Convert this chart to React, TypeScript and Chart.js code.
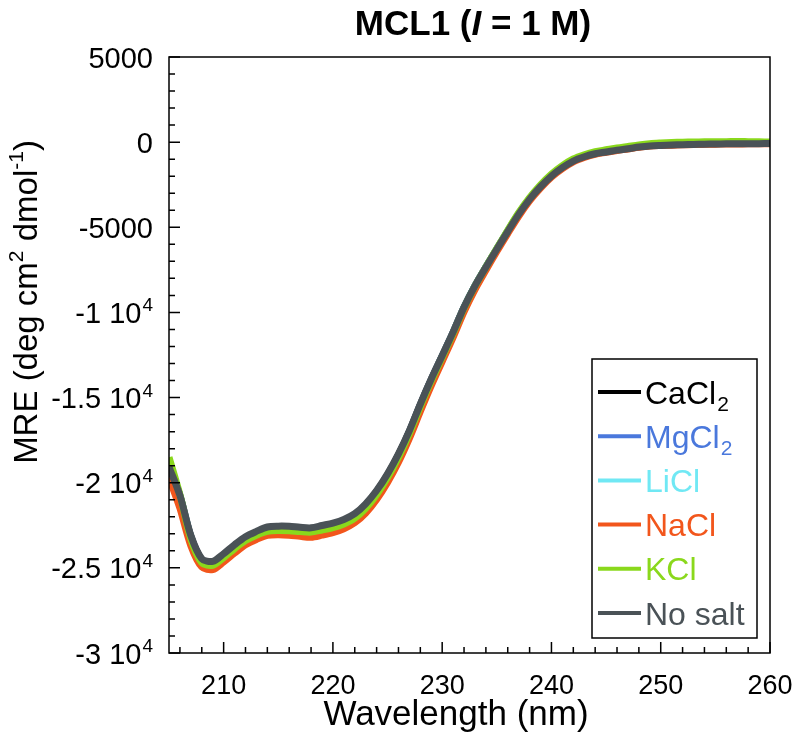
import React, { useEffect, useRef } from "react";
import { Chart, registerables } from "chart.js";

Chart.register(...registerables);

const wavelengths = [
  205, 206, 207, 208, 209, 210, 211, 212, 213, 214, 215, 216, 217, 218, 219, 220,
  221, 222, 223, 224, 225, 226, 227, 228, 229, 230, 231, 232, 233, 234, 235, 236,
  237, 238, 239, 240, 241, 242, 243, 244, 245, 246, 247, 248, 249, 250, 251, 252,
  253, 254, 255, 256, 257, 258, 259, 260,
];

const cacl2 = [
  -18900, -20780, -23150, -24520, -24680, -24230, -23700, -23230, -22920, -22660, -22610, -22620, -22680, -22710, -22570, -22430,
  -22220, -21880, -21300, -20520, -19540, -18360, -16990, -15420, -13940, -12560, -11170, -9700, -8440, -7340, -6280, -5230,
  -4220, -3340, -2600, -1970, -1480, -1090, -840, -660, -560, -450, -370, -270, -200, -170, -150, -130,
  -110, -100, -90, -80, -80, -70, -70, -60,
];
const mgcl2 = [
  -18950, -20800, -23180, -24560, -24720, -24270, -23740, -23270, -22960, -22700, -22650, -22660, -22720, -22750, -22610, -22470,
  -22260, -21920, -21340, -20560, -19580, -18400, -17020, -15440, -13960, -12580, -11190, -9710, -8450, -7340, -6270, -5220,
  -4200, -3320, -2580, -1950, -1460, -1070, -820, -640, -540, -430, -350, -250, -180, -150, -130, -110,
  -95, -85, -75, -65, -65, -55, -55, -50,
];
const licl = [
  -18800, -20760, -23200, -24600, -24760, -24310, -23780, -23310, -23000, -22740, -22690, -22700, -22760, -22790, -22650, -22510,
  -22300, -21960, -21380, -20590, -19600, -18420, -17040, -15460, -13980, -12590, -11200, -9720, -8450, -7340, -6260, -5210,
  -4190, -3300, -2560, -1930, -1440, -1050, -800, -620, -510, -400, -320, -220, -150, -120, -100, -80,
  -65, -55, -45, -40, -35, -35, -40, -45,
];
const nacl = [
  -19700, -21500, -23700, -24950, -25100, -24650, -24130, -23650, -23330, -23090, -23050, -23080, -23150, -23200, -23080, -22930,
  -22700, -22350, -21780, -20980, -19980, -18800, -17400, -15820, -14300, -12880, -11460, -9960, -8660, -7520, -6420, -5370,
  -4350, -3450, -2700, -2060, -1560, -1160, -900, -710, -600, -490, -400, -300, -230, -200, -180, -160,
  -140, -130, -120, -110, -110, -100, -100, -90,
];
const kcl = [
  -18500, -20700, -23300, -24700, -24850, -24400, -23870, -23400, -23080, -22850, -22800, -22820, -22870, -22900, -22780, -22640,
  -22420, -22080, -21500, -20700, -19700, -18500, -17100, -15520, -14020, -12630, -11230, -9740, -8460, -7340, -6250, -5180,
  -4150, -3260, -2510, -1880, -1380, -990, -740, -560, -450, -340, -250, -160, -90, -50, -20, 0,
  10, 20, 30, 30, 40, 30, 20, 10,
];
const noSalt = [
  -19070, -20750, -23100, -24460, -24620, -24170, -23640, -23170, -22860, -22600, -22550, -22560, -22620, -22650, -22510, -22370,
  -22160, -21820, -21240, -20460, -19480, -18310, -16940, -15380, -13910, -12540, -11160, -9690, -8440, -7350, -6290, -5250,
  -4240, -3360, -2620, -1990, -1500, -1110, -860, -680, -580, -470, -390, -290, -220, -190, -170, -150,
  -135, -120, -110, -100, -100, -90, -90, -80,
];

const xTicks = [210, 220, 230, 240, 250, 260];
const xTickLabels = ["210", "220", "230", "240", "250", "260"];
const yTicks = [5000, 0, -5000, -10000, -15000, -20000, -25000, -30000];
// [main text, superscript]
const yTickLabels = [
  ["5000", ""], ["0", ""], ["-5000", ""], ["-1 10", "4"], ["-1.5 10", "4"],
  ["-2 10", "4"], ["-2.5 10", "4"], ["-3 10", "4"],
];

const seriesNames = ["CaCl", "MgCl", "LiCl", "NaCl", "KCl", "No salt"];
const seriesSubs = ["2", "2", "", "", "", ""];
const seriesColors = ["#000000", "#4a78dc", "#70e8f4", "#f2561c", "#8ad81c", "#4a5257"];
const seriesData = [cacl2, mgcl2, licl, nacl, kcl, noSalt];
const seriesOrder = [5, 4, 3, 2, 1, 0];

const FONT = '"Liberation Sans", Arial, Helvetica, sans-serif';

const decorPlugin = {
  id: "decor",
  afterDraw(chart: any) {
    const ctx = chart.ctx;
    const { left, right, top, bottom } = chart.chartArea;
    const xs = chart.scales.x;
    const ys = chart.scales.y;
    ctx.save();
    // frame
    ctx.strokeStyle = "#000";
    ctx.lineWidth = 1.5;
    ctx.strokeRect(left, top, right - left, bottom - top);
    // ticks (inward)
    ctx.beginPath();
    for (let v = 206; v <= 260; v += 2) {
      const px = xs.getPixelForValue(v);
      const len = v % 10 === 0 ? 11 : 6;
      ctx.moveTo(px, bottom);
      ctx.lineTo(px, bottom - len);
    }
    for (let v = -30000; v <= 5000; v += 1000) {
      const py = ys.getPixelForValue(v);
      const len = v % 5000 === 0 ? 11 : 6;
      ctx.moveTo(left, py);
      ctx.lineTo(left + len, py);
    }
    ctx.stroke();

    ctx.fillStyle = "#000";
    ctx.textBaseline = "alphabetic";

    // x tick labels
    ctx.font = `27px ${FONT}`;
    ctx.textAlign = "center";
    xTicks.forEach((v, i) => {
      ctx.fillText(xTickLabels[i], xs.getPixelForValue(v), 694);
    });

    // y tick labels (right aligned, with superscript)
    yTicks.forEach((v, i) => {
      const py = ys.getPixelForValue(v);
      const [main, sup] = yTickLabels[i];
      ctx.textAlign = "right";
      let xr = 153;
      if (sup) {
        ctx.font = `19px ${FONT}`;
        ctx.fillText(sup, xr, py - 1);
        xr -= ctx.measureText(sup).width + 1;
      }
      ctx.font = `29px ${FONT}`;
      ctx.fillText(main, xr, py + 10.5);
    });

    // title
    ctx.textAlign = "left";
    const parts = [
      { t: "MCL1 (", f: `bold 35px ${FONT}` },
      { t: "I", f: `italic bold 35px ${FONT}` },
      { t: " = 1 M)", f: `bold 35px ${FONT}` },
    ];
    let tw = 0;
    parts.forEach((p) => {
      ctx.font = p.f;
      tw += ctx.measureText(p.t).width;
    });
    let tx = 473 - tw / 2;
    parts.forEach((p) => {
      ctx.font = p.f;
      ctx.fillText(p.t, tx, 35);
      tx += ctx.measureText(p.t).width;
    });

    // x title
    ctx.font = `35px ${FONT}`;
    ctx.textAlign = "center";
    ctx.fillText("Wavelength (nm)", 456, 725);

    // y title (rotated, with superscripts)
    ctx.save();
    ctx.translate(37, 302);
    ctx.rotate(-Math.PI / 2);
    const yparts = [
      { t: "MRE (deg cm", s: 33, dy: 0 },
      { t: "2", s: 21, dy: -14 },
      { t: " dmol", s: 33, dy: 0 },
      { t: "-1", s: 21, dy: -14 },
      { t: ")", s: 33, dy: 0 },
    ];
    let yw = 0;
    yparts.forEach((p) => {
      ctx.font = `${p.s}px ${FONT}`;
      yw += ctx.measureText(p.t).width;
    });
    let yx = -yw / 2;
    ctx.textAlign = "left";
    yparts.forEach((p) => {
      ctx.font = `${p.s}px ${FONT}`;
      ctx.fillText(p.t, yx, p.dy);
      yx += ctx.measureText(p.t).width;
    });
    ctx.restore();

    // legend
    const lx0 = 592, ly0 = 359, lx1 = 757, ly1 = 638;
    ctx.fillStyle = "#fff";
    ctx.fillRect(lx0, ly0, lx1 - lx0, ly1 - ly0);
    ctx.strokeStyle = "#000";
    ctx.lineWidth = 1.5;
    ctx.strokeRect(lx0, ly0, lx1 - lx0, ly1 - ly0);
    ctx.textAlign = "left";
    ctx.textBaseline = "alphabetic";
    seriesNames.forEach((name, i) => {
      const y = 392 + i * 44.2;
      ctx.strokeStyle = seriesColors[i];
      ctx.lineWidth = 4;
      ctx.beginPath();
      ctx.moveTo(598, y);
      ctx.lineTo(641, y);
      ctx.stroke();
      ctx.fillStyle = seriesColors[i];
      ctx.font = `32px ${FONT}`;
      ctx.fillText(name, 645, y + 11.5);
      if (seriesSubs[i]) {
        const w = ctx.measureText(name).width;
        ctx.font = `21px ${FONT}`;
        ctx.fillText(seriesSubs[i], 645 + w + 1, y + 19);
      }
    });
    ctx.restore();
  },
};

export default function App() {
  const ref = useRef<HTMLCanvasElement | null>(null);
  useEffect(() => {
    if (!ref.current) return;
    const chart = new Chart(ref.current, {
      type: "line",
      data: {
        labels: wavelengths,
        datasets: seriesNames.map((n, i) => ({
          label: n + seriesSubs[i],
          data: wavelengths.map((w, k) => ({ x: w, y: seriesData[i][k] })),
          borderColor: seriesColors[i],
          backgroundColor: seriesColors[i],
          borderWidth: 7,
          pointRadius: 0,
          tension: 0.3,
          fill: false,
          order: seriesOrder[i],
          borderJoinStyle: "round" as const,
        })),
      },
      options: {
        responsive: false,
        animation: false,
        layout: { padding: { top: 57, right: 26, left: 0, bottom: 0 } },
        plugins: {
          legend: { display: false },
          tooltip: { enabled: false },
          title: { display: false },
        },
        scales: {
          x: {
            type: "linear",
            min: 205,
            max: 260,
            afterFit: (s: any) => {
              s.height = 101;
            },
            afterBuildTicks: (s: any) => {
              s.ticks = xTicks.map((v) => ({ value: v }));
            },
            grid: { display: false, drawTicks: false },
            border: { display: false },
            ticks: { display: false },
          },
          y: {
            type: "linear",
            min: -30000,
            max: 5000,
            afterFit: (s: any) => {
              s.width = 169;
            },
            afterBuildTicks: (s: any) => {
              s.ticks = yTicks.map((v) => ({ value: v }));
            },
            grid: { display: false, drawTicks: false },
            border: { display: false },
            ticks: { display: false },
          },
        },
      },
      plugins: [decorPlugin],
    });
    return () => chart.destroy();
  }, []);
  return (
    <div style={{ position: "absolute", left: 0, top: 0, width: 796, height: 754, background: "#fff" }}>
      <canvas ref={ref} width={796} height={754} style={{ display: "block" }} />
    </div>
  );
}
